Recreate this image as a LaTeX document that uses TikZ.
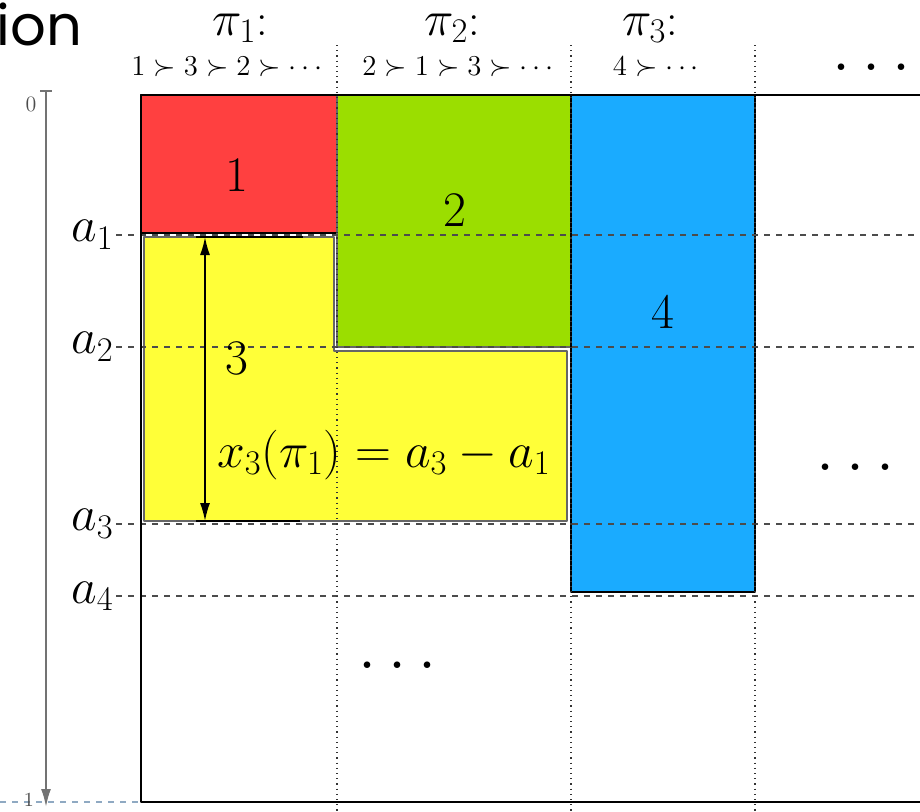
\documentclass[tikz,border=0pt]{standalone}
\usepackage{fontspec}
\newfontfamily\titlefont{Poppins}
\usetikzlibrary{arrows.meta}
\definecolor{boxred}{RGB}{255,64,64}
\definecolor{boxgreen}{RGB}{155,222,0}
\definecolor{boxyellow}{RGB}{255,255,56}
\definecolor{boxblue}{RGB}{26,171,255}
\definecolor{edgeblue}{RGB}{143,169,194}

\newcommand{\widedots}{.\kern5pt.\kern5pt.}

\tikzset{
    biglabel/.style={font=\fontsize{34}{40}\selectfont},
    mathlabel/.style={font=\fontsize{27}{32}\selectfont},
    headlabel/.style={font=\fontsize{23}{28}\selectfont},
    preflabel/.style={font=\fontsize{14}{17}\selectfont},
    dotslabel/.style={font=\fontsize{40}{44}\selectfont,inner sep=0pt},
    gridline/.style={dashed,black!70,line width=0.6pt},
    colline/.style={dotted,black!80,line width=0.6pt},
}

\begin{document}
\begin{tikzpicture}[x=0.5pt,y=-0.5pt,line join=round]
        \useasboundingbox (0,0) rectangle (920,811);

        % the slide title, cut off
        \node[anchor=base west,inner sep=0pt,font=\titlefont\fontsize{28}{32}\selectfont] (title) at (-4,45) {ion};

        % blocks
        \fill[boxred] (141,95) rectangle (337,233);
        \draw[black,line width=0.8pt] (141,95) rectangle (337,233);
        \filldraw[fill=boxgreen,draw=black!60,line width=0.8pt] (337,95) rectangle (571,347);
        \filldraw[fill=boxyellow,draw=black!60,line width=0.8pt]
            (144,237) -- (334,237) -- (334,351) -- (567,351) -- (567,521) -- (144,521) -- cycle;
        \filldraw[fill=boxblue,draw=black,line width=0.8pt] (571,95) rectangle (755,592);

        % levels a_i
        \foreach \i/\y in {1/235,2/347,3/524,4/596} {
            \node[mathlabel,anchor=east,inner sep=1pt] (a\i) at (116,\y) {$a_{\i}$};
            \draw[gridline] (a\i.east |- 0,\y) -- (920,\y);
        }

        % columns
        \foreach \x in {337,571,755} {
            \draw[colline] (\x,45) -- (\x,811);
        }

        % axis from 0 to 1
        \draw[edgeblue,dashed,line width=0.6pt] (0,802) -- (920,802);
        \draw[black!55,line width=1pt,{Bar[width=6pt]}-{Latex[length=9pt,width=5pt]}] (46,90) -- (46,807);
        \node[font=\fontsize{11}{12}\selectfont,black!70] (zero) at (31,104) {0};
        \node[font=\fontsize{10}{11}\selectfont,black!70] (one) at (29,800) {1};

        % frame
        \draw[line width=1pt] (920,95) -- (141,95) -- (141,802) -- (920,802);

        % x_3(pi_1)
        \coordinate (up) at (205,237);
        \coordinate (down) at (205,521);
        \draw[line width=0.8pt] (196,237) -- (303,237);
        \draw[line width=0.8pt] (196,521) -- (300,521);
        \draw[line width=0.8pt,{Latex[length=9pt,width=5pt]}-{Latex[length=9pt,width=5pt]}] (up) -- (down);

        % labels
        \node[biglabel] (one) at (237,175) {$1$};
        \node[biglabel] (two) at (455,210) {$2$};
        \node[biglabel] (three) at (237,358) {$3$};
        \node[biglabel] (four) at (663,312) {$4$};
        \node[mathlabel] (len) at (384,455) {$x_3(\pi_1) = a_3 - a_1$};

        \node[headlabel,anchor=base] (p1) at (240,35) {$\pi_1$:};
        \node[headlabel,anchor=base] (p2) at (452,35) {$\pi_2$:};
        \node[headlabel,anchor=base] (p3) at (650,35) {$\pi_3$:};
        \node[preflabel] (r1) at (227,67) {$1 \succ 3 \succ 2 \succ \cdots$};
        \node[preflabel] (r2) at (458,67) {$2 \succ 1 \succ 3 \succ \cdots$};
        \node[preflabel] (r3) at (656,67) {$4 \succ \cdots$};

        \node[dotslabel] (dtop) at (871,67) {\widedots};
        \node[dotslabel] (dright) at (855,467) {\widedots};
        \node[dotslabel] (dlow) at (397,665) {\widedots};
    \end{tikzpicture}
\end{document}
